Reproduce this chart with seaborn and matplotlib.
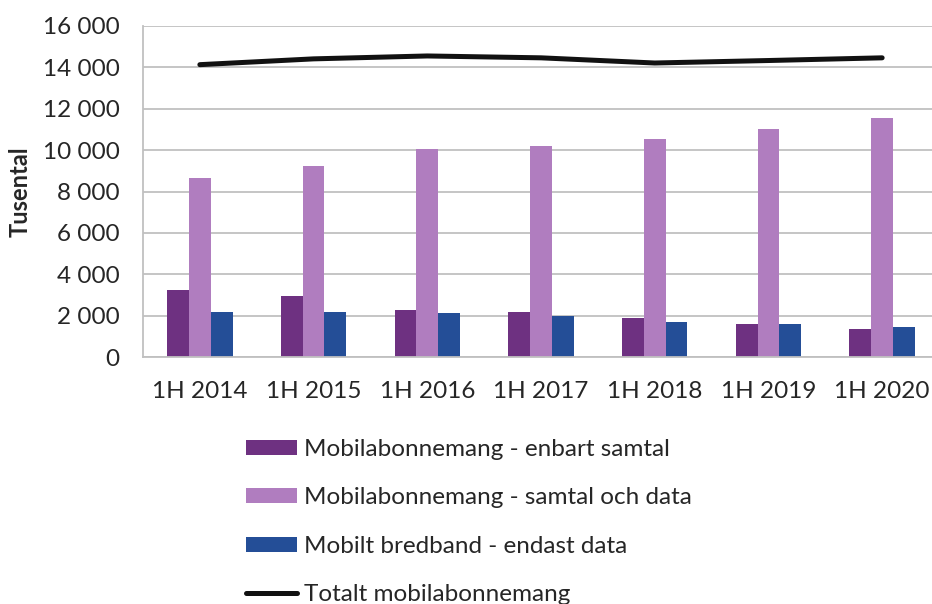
"""
Mobilabonnemang per halvår - stapel- och linjediagram
"""

import numpy as np
import pandas as pd
import matplotlib
matplotlib.use("Agg")
import matplotlib.pyplot as plt
from matplotlib.patches import Patch
from matplotlib.lines import Line2D
from matplotlib.ticker import FuncFormatter, FixedLocator
import seaborn as sns

# data (tusental)
periods = ['1H 2014', '1H 2015', '1H 2016', '1H 2017', '1H 2018', '1H 2019', '1H 2020']
enbart_samtal = [3230, 2940, 2280, 2200, 1900, 1610, 1370]
samtal_och_data = [8640, 9230, 10040, 10200, 10530, 11030, 11560]
endast_data = [2170, 2170, 2140, 2010, 1690, 1610, 1480]
totalt = [14120, 14400, 14540, 14450, 14200, 14320, 14450]

series_names = ['Mobilabonnemang - enbart samtal',
                'Mobilabonnemang - samtal och data',
                'Mobilt bredband - endast data']
line_name = 'Totalt mobilabonnemang'
colors = ['#6E3181', '#B07DBF', '#244E97']


def build_frame():
    """Long-form table for seaborn."""
    rows = []
    for name, vals in zip(series_names, [enbart_samtal, samtal_och_data, endast_data]):
        for p, v in zip(periods, vals):
            rows.append({'period': p, 'serie': name, 'value': v})
    return pd.DataFrame(rows)


def main():
    sns.set_style('white')
    plt.rcParams['font.family'] = ['Lato', 'DejaVu Sans']
    fs = 17.5

    df = build_frame()
    fig = plt.figure(figsize=(9.32, 6.04), dpi=100)
    ax = fig.add_axes([143 / 932, 1 - 357.3 / 604, 796 / 932, (357.3 - 25.7) / 604])

    sns.barplot(data=df, x='period', y='value', hue='serie', order=periods,
                hue_order=series_names, palette=colors, width=0.575, gap=0,
                saturation=1, ax=ax, legend=False, edgecolor='none')
    sns.lineplot(x=np.arange(len(periods)), y=totalt, color='#111111',
                 linewidth=3.6, ax=ax, legend=False, solid_capstyle='round')

    ax.set_xlim(-0.5, len(periods) - 0.5)
    ax.set_ylim(0, 16000)
    ax.set_yticks(np.arange(0, 16001, 2000))
    ax.yaxis.set_major_formatter(FuncFormatter(lambda v, _: f"{v:,.0f}".replace(",", " ")))
    ax.set_xlabel('')
    ax.set_ylabel('Tusental', fontsize=17, fontweight='bold', labelpad=8)

    grid_c = '#C0C0C0'
    ax.grid(axis='y', color=grid_c, linewidth=1.3)
    ax.set_axisbelow(True)
    for side in ['top', 'right']:
        ax.spines[side].set_visible(False)
    for side in ['left', 'bottom']:
        ax.spines[side].set_color(grid_c)
        ax.spines[side].set_linewidth(1.3)

    # kategorigränser som små streck under x-axeln
    ax.xaxis.set_minor_locator(FixedLocator(np.arange(len(periods) + 1) - 0.5))
    ax.tick_params(axis='x', which='minor', length=7, width=1.3, color=grid_c)
    ax.tick_params(axis='x', which='major', length=0, pad=17, labelsize=fs)
    ax.tick_params(axis='y', length=7, width=1.3, color=grid_c, pad=10, labelsize=fs)

    handles = [Patch(facecolor=c, edgecolor='none') for c in colors]
    handles.append(Line2D([0], [0], color='#111111', linewidth=3.6, solid_capstyle='round'))
    fig.legend(handles, series_names + [line_name], loc='upper left',
               bbox_to_anchor=(246 / 932, 1 - 439 / 604), frameon=False,
               fontsize=fs, handlelength=2.1, handleheight=0.58, handletextpad=0.28,
               labelspacing=1.13, borderpad=0, borderaxespad=0)

    fig.savefig('out.png', dpi=100)


if __name__ == "__main__":
    main()
